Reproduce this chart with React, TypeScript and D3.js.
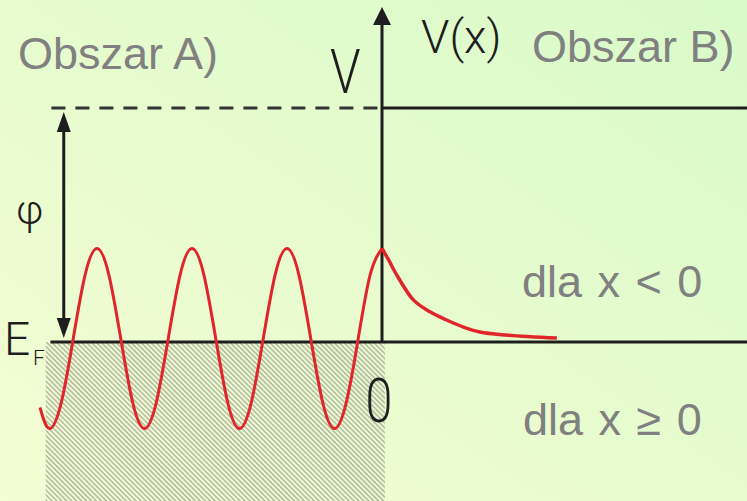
import { scaleLinear, line, curveNatural, curveCatmullRom } from "d3";

const width = 747;
const height = 501;

// wave function inside the metal (region A): x in wavelengths, y in units of phi above E_F
const waveX = [
  -3.6, -3.5, -3.375, -3.25, -3.125, -3, -2.875, -2.75, -2.625, -2.5, -2.375, -2.25, -2.125, -2,
  -1.875, -1.75, -1.625, -1.5, -1.375, -1.25, -1.125, -1, -0.875, -0.75, -0.625, -0.5, -0.375,
  -0.25, -0.125, 0,
];
const waveY = [
  -0.28, -0.37, -0.257, 0.015, 0.287, 0.4, 0.287, 0.015, -0.257, -0.37, -0.257, 0.015, 0.287, 0.4,
  0.287, 0.015, -0.257, -0.37, -0.257, 0.015, 0.287, 0.4, 0.287, 0.015, -0.257, -0.37, -0.257,
  0.015, 0.287, 0.4,
];

// evanescent tail outside (region B)
const tailX = [0, 0.084, 0.15, 0.33, 0.5, 0.68, 0.85, 1.03, 1.3, 1.84];
const tailY = [0.4, 0.34, 0.29, 0.18, 0.13, 0.094, 0.065, 0.043, 0.03, 0.017];

// energy levels: Fermi level and vacuum level (phi)
const levelNames = ["EF", "vacuum"];
const levelValues = [0, 1];

// metal edges and the left ends of the level lines
const metalEdges = [-3.54, 0.03];
const levelStart = [-3.49, -3.48];
const phiArrowX = -3.35;

const labels = ["Obszar A)", "Obszar B)", "dla x < 0", "dla x \u2265 0"];

const x = scaleLinear().domain([-382 / 95, 365 / 95]).range([0, width]);
const y = scaleLinear().domain([-159 / 234, 342 / 234]).range([height, 0]);

const toPts = (xs: number[], ys: number[]) => xs.map((v, i) => [v, ys[i]] as [number, number]);

const waveLine = line<[number, number]>()
  .x((d) => x(d[0]))
  .y((d) => y(d[1]))
  .curve(curveNatural);

const tailLine = line<[number, number]>()
  .x((d) => x(d[0]))
  .y((d) => y(d[1]))
  .curve(curveCatmullRom.alpha(0.5));

const ink = "#1e1e1e";
const grey = "#808080";
const thin = "'Roboto', 'Liberation Sans', Arial, sans-serif";
const sans = "'Liberation Sans', Arial, sans-serif";

const App = () => {
  const x0 = x(0);
  const yF = y(levelValues[0]);
  const yV = y(levelValues[1]);
  const xPhi = x(phiArrowX);
  const aw = 7;
  const ah = 20;

  return (
    <svg
      width={width}
      height={height}
      viewBox={`0 0 ${width} ${height}`}
      style={{ position: "absolute", left: 0, top: 0 }}
    >
      <defs>
        <linearGradient id="bg" x1="0" y1="1" x2="1" y2="0">
          <stop offset="0" stopColor="#f4fdd3" />
          <stop offset="1" stopColor="#d9fac9" />
        </linearGradient>
        <pattern
          id="hatch"
          patternUnits="userSpaceOnUse"
          width={3.5}
          height={10}
          patternTransform="rotate(-45)"
        >
          <line x1={1} y1={0} x2={1} y2={10} stroke="#a8ab9b" strokeWidth={1.3} />
        </pattern>
      </defs>
      <rect width={width} height={height} fill="url(#bg)" />

      {/* metal, filled states below E_F */}
      <rect
        x={x(metalEdges[0])}
        y={yF}
        width={x(metalEdges[1]) - x(metalEdges[0])}
        height={height - yF}
        fill="url(#hatch)"
      />

      {/* vacuum level: dashed in metal, solid outside */}
      <line
        x1={x(levelStart[1])}
        x2={x0}
        y1={yV}
        y2={yV}
        stroke="#333"
        strokeWidth={3}
        strokeDasharray="14 10"
      />
      <line x1={x0} x2={width} y1={yV} y2={yV} stroke={ink} strokeWidth={3} />

      {/* Fermi level */}
      <line x1={x(levelStart[0])} x2={width} y1={yF} y2={yF} stroke={ink} strokeWidth={3} />

      {/* V axis */}
      <line x1={x0} x2={x0} y1={yF} y2={22} stroke={ink} strokeWidth={3} />
      <path d={`M${x0},7 L${x0 + 9},25 L${x0 - 9},25 Z`} fill={ink} />

      {/* phi double arrow */}
      <line x1={xPhi} x2={xPhi} y1={yV + 14} y2={yF - 14} stroke={ink} strokeWidth={3} />
      <path d={`M${xPhi},${yV + 4} L${xPhi + aw},${yV + 4 + ah} L${xPhi - aw},${yV + 4 + ah} Z`} fill={ink} />
      <path d={`M${xPhi},${yF - 4} L${xPhi + aw},${yF - 4 - ah} L${xPhi - aw},${yF - 4 - ah} Z`} fill={ink} />

      {/* wave function */}
      <path d={waveLine(toPts(waveX, waveY)) ?? ""} fill="none" stroke="#e0262a" strokeWidth={3} />
      <path d={tailLine(toPts(tailX, tailY)) ?? ""} fill="none" stroke="#e0262a" strokeWidth={3.5} />

      {/* labels */}
      <g fontFamily={sans} fill={grey} fontSize={45}>
        <text x={18} y={69}>{labels[0]}</text>
        <text x={532} y={62}>{labels[1]}</text>
        <text x={522} y={297} wordSpacing={3}>{labels[2]}</text>
        <text x={523} y={435} wordSpacing={3}>{labels[3]}</text>
      </g>

      <g fontFamily={thin} fontWeight={300} fill={ink}>
        <text x={0} y={0} fontSize={62} transform={`translate(${x0 - 52},93) scale(0.8,1)`}>V</text>
        <text x={421} y={53} fontSize={46}>V(x)</text>
        <text x={16} y={224} fontSize={40}>{"\u03c6"}</text>
        <text x={4} y={355} fontSize={46}>E</text>
        <text x={33} y={365} fontSize={21}>F</text>
        <text x={0} y={0} fontSize={62} textAnchor="middle" transform={`translate(${x0 - 3},422) scale(0.78,1)`}>0</text>
      </g>
    </svg>
  );
};

export default App;
